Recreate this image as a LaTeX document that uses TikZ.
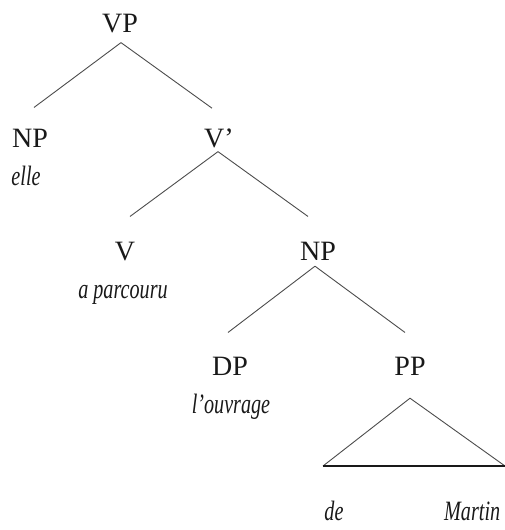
\documentclass[tikz,border=0pt]{standalone}
\usepackage{fontspec}
\setmainfont{Liberation Serif}
\newfontfamily\leaffont[FakeStretch=0.72]{Liberation Serif}
\usepackage{tikz}
\usetikzlibrary{calc}
\tikzset{
	cat/.style={inner sep=0pt, anchor=base, text=black!90, font=\fontsize{28}{32}\selectfont},
	word/.style={inner sep=0pt, anchor=base, text=black!90, font=\leaffont\itshape\fontsize{28}{32}\selectfont},
	branch/.style={line width=0.9pt, draw=black!70},
	base/.style={line width=1.6pt, draw=black!90}
}

\begin{document}
\begin{tikzpicture}[x=1pt, y=-1pt]
			%%%%% START %%%%%
			\useasboundingbox (0, 0) rectangle (505, 530);
			
			\node[cat] (vp) at (120, 32) {VP};
			
			\node[cat] (np) at (30, 147) {NP};
			\node[word] (elle) at (26, 185) {elle};
			\node[cat] (vbar) at (219, 147) {V’};
			
			\node[cat] (v) at (125, 260) {V};
			\node[word] (parcouru) at (123, 298) {a parcouru};
			\node[cat] (np2) at (318, 260) {NP};
			
			\node[cat] (dp) at (230, 375) {DP};
			\node[word] (ouvrage) at (231, 413) {l’ouvrage};
			\node[cat] (pp) at (410, 375) {PP};
			
			\node[word] (de) at (334, 520) {de};
			\node[word, anchor=base west] (martin) at (444, 520) {Martin};
			
			% branches
			\draw[branch] ([xshift=1pt, yshift=-10pt]vp.south) -- ([xshift=4pt, yshift=21pt]np.north);
			\draw[branch] ([xshift=1pt, yshift=-10pt]vp.south) -- ([xshift=-7pt, yshift=20pt]vbar.north);
			
			\draw[branch] ([xshift=-1pt, yshift=-4pt]vbar.south) -- ([xshift=5pt, yshift=25pt]v.north);
			\draw[branch] ([xshift=-1pt, yshift=-4pt]vbar.south) -- ([xshift=-10pt, yshift=25pt]np2.north);
			
			\draw[branch] ([xshift=-3pt, yshift=-6pt]np2.south) -- ([xshift=-2pt, yshift=24pt]dp.north);
			\draw[branch] ([xshift=-3pt, yshift=-6pt]np2.south) -- ([xshift=-5pt, yshift=24pt]pp.north);
			
			% triangle over de Martin
			\coordinate (tl) at (323, 466);
			\coordinate (tr) at (505, 466);
			\draw[branch] (tl) -- ([yshift=-23pt]pp.south) -- (tr);
			\draw[base] (tl) -- (tr);
			
			%%%%% END %%%%%
\end{tikzpicture}
\end{document}
